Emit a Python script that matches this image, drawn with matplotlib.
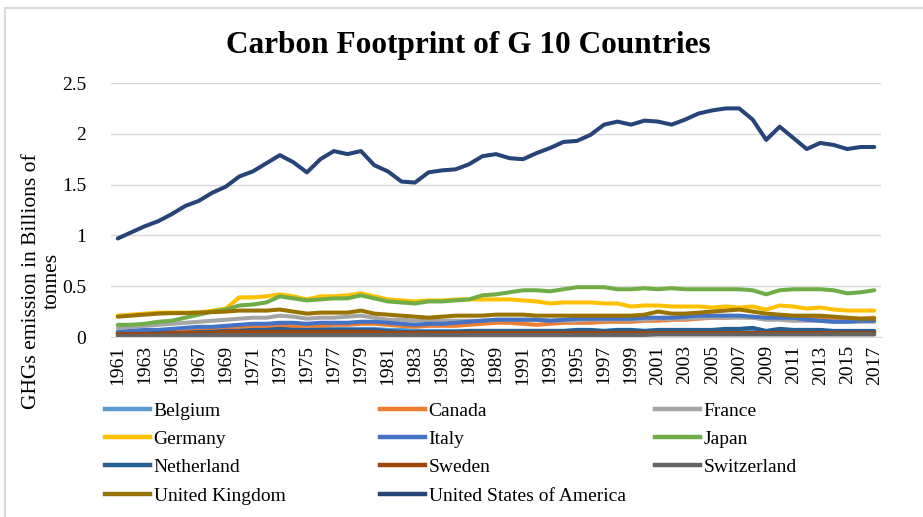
import numpy as np
import matplotlib.pyplot as plt
from matplotlib.lines import Line2D
from matplotlib.patches import Rectangle

# ==========================================
# DATA (GHG emissions, billions of tonnes)
# ==========================================
years = list(range(1961, 2018))

belgium = [0.05, 0.05, 0.05, 0.06, 0.06, 0.06, 0.06, 0.07, 0.07, 0.08,
           0.08, 0.08, 0.08, 0.08, 0.07, 0.08, 0.08, 0.08, 0.08, 0.08,
           0.07, 0.07, 0.06, 0.06, 0.06, 0.06, 0.06, 0.06, 0.06, 0.06,
           0.06, 0.06, 0.06, 0.06, 0.06, 0.06, 0.06, 0.06, 0.06, 0.06,
           0.06, 0.06, 0.06, 0.06, 0.06, 0.06, 0.06, 0.06, 0.05, 0.05,
           0.05, 0.05, 0.05, 0.05, 0.05, 0.05, 0.05]
canada = [0.04, 0.04, 0.05, 0.05, 0.06, 0.07, 0.07, 0.08, 0.09, 0.10,
          0.10, 0.11, 0.11, 0.11, 0.11, 0.11, 0.12, 0.12, 0.13, 0.13,
          0.12, 0.11, 0.10, 0.11, 0.11, 0.11, 0.12, 0.13, 0.14, 0.14,
          0.13, 0.12, 0.13, 0.14, 0.14, 0.14, 0.15, 0.15, 0.15, 0.16,
          0.16, 0.17, 0.17, 0.18, 0.19, 0.19, 0.20, 0.19, 0.18, 0.18,
          0.18, 0.18, 0.18, 0.18, 0.18, 0.18, 0.19]
france = [0.09, 0.10, 0.11, 0.12, 0.13, 0.14, 0.15, 0.16, 0.17, 0.18,
          0.19, 0.19, 0.21, 0.20, 0.18, 0.19, 0.19, 0.20, 0.21, 0.19,
          0.17, 0.17, 0.16, 0.16, 0.16, 0.16, 0.16, 0.16, 0.17, 0.17,
          0.17, 0.17, 0.16, 0.16, 0.16, 0.17, 0.17, 0.17, 0.17, 0.17,
          0.18, 0.18, 0.18, 0.19, 0.19, 0.19, 0.19, 0.19, 0.17, 0.17,
          0.16, 0.16, 0.16, 0.15, 0.15, 0.15, 0.15]
germany = [0.21, 0.22, 0.23, 0.24, 0.24, 0.24, 0.24, 0.26, 0.28, 0.39,
           0.39, 0.40, 0.42, 0.40, 0.37, 0.40, 0.40, 0.41, 0.43, 0.40,
           0.37, 0.36, 0.35, 0.36, 0.36, 0.37, 0.37, 0.37, 0.37, 0.37,
           0.36, 0.35, 0.33, 0.34, 0.34, 0.34, 0.33, 0.33, 0.30, 0.31,
           0.31, 0.30, 0.30, 0.30, 0.29, 0.30, 0.29, 0.30, 0.27, 0.31,
           0.30, 0.28, 0.29, 0.27, 0.26, 0.26, 0.26]
italy = [0.05, 0.06, 0.07, 0.07, 0.08, 0.09, 0.10, 0.10, 0.11, 0.12,
         0.13, 0.13, 0.14, 0.14, 0.13, 0.14, 0.14, 0.14, 0.15, 0.15,
         0.14, 0.13, 0.12, 0.13, 0.13, 0.14, 0.15, 0.16, 0.17, 0.17,
         0.17, 0.17, 0.16, 0.17, 0.18, 0.18, 0.18, 0.18, 0.18, 0.19,
         0.19, 0.19, 0.20, 0.21, 0.21, 0.21, 0.21, 0.20, 0.19, 0.19,
         0.19, 0.17, 0.16, 0.15, 0.15, 0.16, 0.16]
japan = [0.12, 0.12, 0.13, 0.15, 0.16, 0.19, 0.22, 0.25, 0.27, 0.31,
         0.32, 0.34, 0.40, 0.38, 0.36, 0.37, 0.38, 0.38, 0.41, 0.38,
         0.35, 0.34, 0.33, 0.35, 0.35, 0.36, 0.37, 0.41, 0.42, 0.44,
         0.46, 0.46, 0.45, 0.47, 0.49, 0.49, 0.49, 0.47, 0.47, 0.48,
         0.47, 0.48, 0.47, 0.47, 0.47, 0.47, 0.47, 0.46, 0.42, 0.46,
         0.47, 0.47, 0.47, 0.46, 0.43, 0.44, 0.46]
netherland = [0.03, 0.03, 0.03, 0.04, 0.04, 0.04, 0.05, 0.05, 0.06, 0.06,
              0.07, 0.07, 0.08, 0.07, 0.07, 0.07, 0.07, 0.07, 0.07, 0.07,
              0.06, 0.05, 0.05, 0.05, 0.05, 0.05, 0.06, 0.06, 0.06, 0.06,
              0.06, 0.06, 0.06, 0.06, 0.07, 0.07, 0.06, 0.07, 0.07, 0.06,
              0.07, 0.07, 0.07, 0.07, 0.07, 0.08, 0.08, 0.09, 0.06, 0.08,
              0.07, 0.07, 0.07, 0.06, 0.06, 0.06, 0.06]
sweden = [0.03, 0.03, 0.03, 0.03, 0.04, 0.04, 0.04, 0.04, 0.05, 0.05,
          0.05, 0.05, 0.05, 0.05, 0.05, 0.05, 0.05, 0.05, 0.05, 0.05,
          0.04, 0.04, 0.04, 0.04, 0.04, 0.04, 0.04, 0.04, 0.04, 0.04,
          0.04, 0.04, 0.04, 0.04, 0.04, 0.04, 0.04, 0.04, 0.04, 0.04,
          0.04, 0.04, 0.04, 0.04, 0.04, 0.04, 0.04, 0.04, 0.04, 0.04,
          0.04, 0.04, 0.04, 0.04, 0.04, 0.04, 0.04]
switzerland = [0.01, 0.01, 0.01, 0.015, 0.015, 0.02, 0.02, 0.02, 0.02, 0.02,
               0.02, 0.02, 0.02, 0.02, 0.02, 0.02, 0.02, 0.02, 0.02, 0.02,
               0.02, 0.02, 0.02, 0.02, 0.02, 0.02, 0.02, 0.02, 0.02, 0.02,
               0.02, 0.02, 0.02, 0.02, 0.02, 0.02, 0.02, 0.02, 0.02, 0.02,
               0.025, 0.025, 0.025, 0.025, 0.025, 0.025, 0.025, 0.025, 0.025, 0.025,
               0.025, 0.025, 0.025, 0.025, 0.025, 0.025, 0.025]
uk = [0.20, 0.21, 0.22, 0.23, 0.235, 0.235, 0.24, 0.245, 0.25, 0.26,
      0.26, 0.26, 0.27, 0.25, 0.23, 0.24, 0.24, 0.24, 0.26, 0.23,
      0.22, 0.21, 0.20, 0.19, 0.20, 0.21, 0.21, 0.21, 0.22, 0.22,
      0.22, 0.21, 0.21, 0.21, 0.21, 0.21, 0.21, 0.21, 0.21, 0.22,
      0.25, 0.23, 0.23, 0.24, 0.25, 0.26, 0.27, 0.25, 0.23, 0.22,
      0.21, 0.21, 0.21, 0.20, 0.19, 0.18, 0.18]
usa = [0.97, 1.03, 1.09, 1.14, 1.21, 1.29, 1.34, 1.42, 1.48, 1.58,
       1.63, 1.71, 1.79, 1.72, 1.62, 1.75, 1.83, 1.80, 1.83, 1.69,
       1.63, 1.53, 1.52, 1.62, 1.64, 1.65, 1.70, 1.78, 1.80, 1.76,
       1.75, 1.81, 1.86, 1.92, 1.93, 1.99, 2.09, 2.12, 2.09, 2.13,
       2.12, 2.09, 2.14, 2.20, 2.23, 2.25, 2.25, 2.14, 1.94, 2.07,
       1.96, 1.85, 1.91, 1.89, 1.85, 1.87, 1.87]

countries = ['Belgium', 'Canada', 'France', 'Germany', 'Italy', 'Japan',
             'Netherland', 'Sweden', 'Switzerland', 'United Kingdom',
             'United States of America']
series = [belgium, canada, france, germany, italy, japan,
          netherland, sweden, switzerland, uk, usa]
colors = ['#5B9BD5', '#ED7D31', '#A5A5A5', '#FFC000', '#4472C4', '#70AD47',
          '#255E91', '#9E480E', '#636363', '#997300', '#264478']

# ==========================================
# PLOTTING
# ==========================================
plt.rcParams['font.family'] = ['Liberation Serif', 'DejaVu Serif']

W, H = 923, 517
fig = plt.figure(figsize=(W / 100, H / 100), dpi=100)
ax = fig.add_axes([111 / W, 1 - 337 / H, (881 - 111) / W, (337 - 83) / H])

# light chart-area border
fig.patches.append(Rectangle((5 / W, -0.1), 1.2, 1 - 8 / H + 0.1,
                             transform=fig.transFigure, fill=False,
                             edgecolor='#D9D9D9', linewidth=1.5))

for name, vals, c in zip(countries, series, colors):
    ax.plot(years, vals, color=c, linewidth=2.9, label=name,
            solid_capstyle='round', solid_joinstyle='round')

ax.set_xlim(1960.5, 2017.5)
ax.set_ylim(0, 2.5)
ax.set_yticks(np.arange(0, 2.51, 0.5))
ax.set_yticklabels(['0', '0.5', '1', '1.5', '2', '2.5'])
ax.set_xticks(years[::2])
ax.set_xticklabels([str(y) for y in years[::2]], rotation=90)
ax.tick_params(axis='y', length=0, pad=18, labelsize=14)
ax.tick_params(axis='x', length=0, pad=6, labelsize=14)

ax.grid(axis='y', color='#D9D9D9', linewidth=1)
ax.set_axisbelow(True)
for s in ['top', 'right', 'left']:
    ax.spines[s].set_visible(False)
ax.spines['bottom'].set_color('#D9D9D9')

fig.text(468 / W, 1 - 46 / H, 'Carbon Footprint of G 10 Countries',
         ha='center', va='center', fontsize=22.5, fontweight='bold')
fig.text(42 / W, 1 - 281 / H, 'GHGs emission in Billions of\ntonnes',
         ha='center', va='center', rotation=90, fontsize=15.5,
         multialignment='center', linespacing=1.15)

# legend laid out in Excel's row order, three equal columns
col_x = [105, 380, 655]
for ci, x0 in enumerate(col_x):
    idx = list(range(ci, len(countries), 3))
    handles = [Line2D([], [], color=colors[i], linewidth=3.2) for i in idx]
    fig.legend(handles, [countries[i] for i in idx], loc='upper left',
               bbox_to_anchor=(x0 / W, 1 - 402 / H), frameon=False,
               borderpad=0, borderaxespad=0, handlelength=2.3,
               handletextpad=0.2, labelspacing=0.55, fontsize=14)

plt.savefig('out.png', dpi=100)
